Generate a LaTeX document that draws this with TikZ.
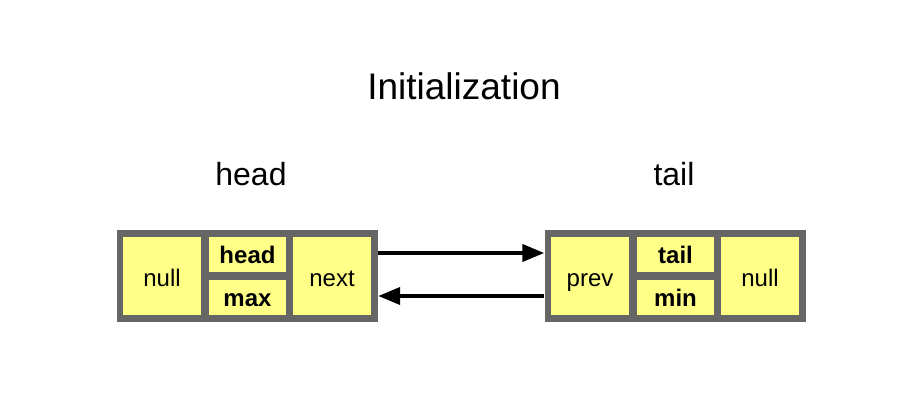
\documentclass[tikz,border=0pt]{standalone}
\usepackage{fontspec}
\setmainfont{Liberation Sans}
\usepackage[dvipsnames]{xcolor}
\usetikzlibrary{arrows.meta}
\definecolor{cellyellow}{RGB}{255,255,136}
\definecolor{framegray}{RGB}{102,102,102}

\begin{document}
\begin{tikzpicture}[x=1pt,y=-1pt,>={Triangle[length=22pt,width=17pt]},
    frame/.style={fill=framegray,minimum width=261pt,minimum height=92pt,inner sep=0pt},
    cell/.style={fill=cellyellow,inner sep=0pt,minimum width=78pt,minimum height=78pt,text height=20pt,text depth=0pt,font=\fontsize{24}{28}\selectfont},
    half cell/.style={cell,minimum width=77pt,minimum height=35pt,text height=17pt,text depth=0pt,font=\fontsize{24}{28}\selectfont\bfseries},
    title/.style={font=\fontsize{37}{44}\selectfont},
    label/.style={font=\fontsize{32}{38}\selectfont}]
    \useasboundingbox (0,0) rectangle (918,420);

    \node[title] (init) at (464,86) {Initialization};
    \node[label] (headlbl) at (251,174) {head};
    \node[label] (taillbl) at (674,174) {tail};

    % head node
    \node[frame] (hframe) at (247.5,276) {};
    \node[cell] (hnull) at (162,276) {null};
    \node[half cell] (hhead) at (247.5,254.5) {head};
    \node[half cell] (hmax) at (247.5,297.5) {max};
    \node[cell] (hnext) at (332,276) {next};

    % tail node
    \node[frame] (tframe) at (675,276) {};
    \node[cell] (tprev) at (590,276) {prev};
    \node[half cell] (ttail) at (675.5,254.5) {tail};
    \node[half cell] (tmin) at (675.5,297.5) {min};
    \node[cell] (tnull) at (760,276) {null};

    \path[->,line width=4pt]
        ([yshift=23pt]hframe.east) edge ([yshift=23pt]tframe.west)
        ([yshift=-20pt]tframe.west) edge ([yshift=-20pt]hframe.east)
    ;
\end{tikzpicture}
\end{document}
